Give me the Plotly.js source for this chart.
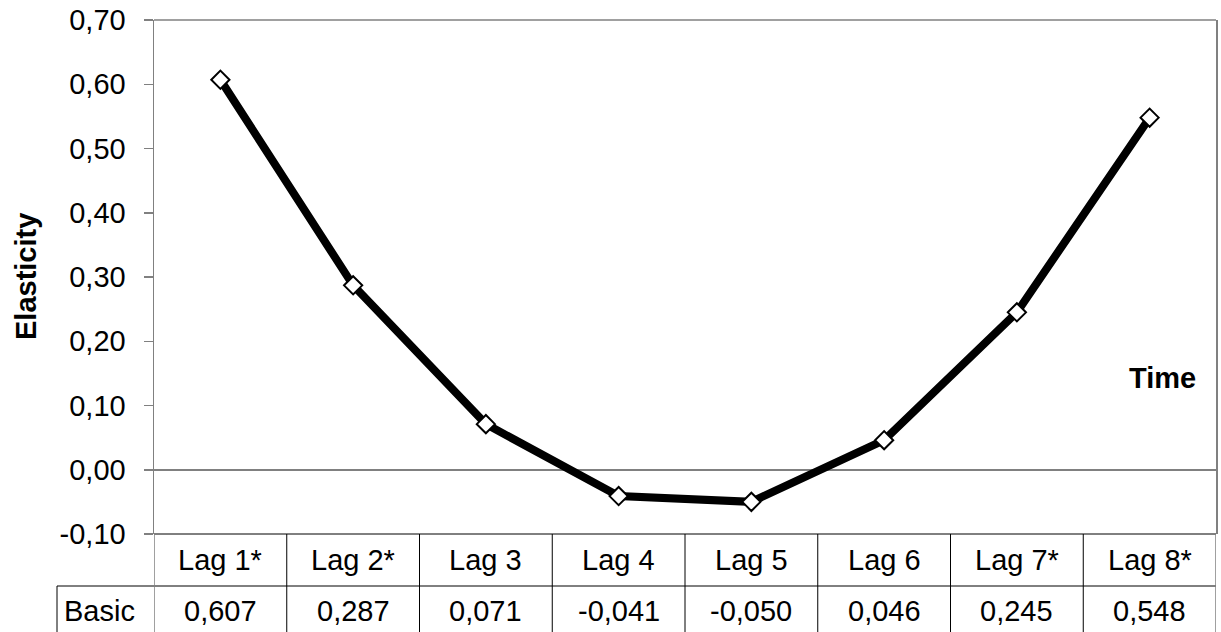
<!DOCTYPE html>
<html>
<head>
<meta charset="utf-8">
<script src="https://cdn.plot.ly/plotly-3.0.1.min.js"></script>
<style>html,body{margin:0;padding:0;background:#fff;}#chart{width:1221px;height:632px;}</style>
</head>
<body>
<div id="chart"></div>
<script>
const categories = ["Lag 1*", "Lag 2*", "Lag 3", "Lag 4", "Lag 5", "Lag 6", "Lag 7*", "Lag 8*"];
const basicValues = [0.607, 0.287, 0.071, -0.041, -0.050, 0.046, 0.245, 0.548];
const basicLabels = ["0,607", "0,287", "0,071", "-0,041", "-0,050", "0,046", "0,245", "0,548"];
const yTickVals = [-0.1, 0, 0.1, 0.2, 0.3, 0.4, 0.5, 0.6, 0.7];
const yTickText = ["-0,10", "0,00", "0,10", "0,20", "0,30", "0,40", "0,50", "0,60", "0,70"];
const seriesName = "Basic";
const yTitle = "Elasticity";
const xTitle = "Time";

const FONT = "Liberation Sans, Arial, sans-serif";
const FS = 29;
const plotH = 632 - 20 - 98;
const row1 = -(560 - 534) / plotH;
const row2 = -(611 - 534) / plotH;
const rowSep = -(586 - 534) / plotH;
const tableBottom = -(640 - 534) / plotH;

const trace = {
  x: categories,
  y: basicValues,
  type: "scatter",
  mode: "lines+markers",
  name: seriesName,
  line: {color: "#000", width: 8},
  marker: {symbol: "diamond", size: 14, color: "#fff", line: {color: "#000", width: 2}},
  hoverinfo: "skip"
};

const shapes = [];
const annotations = [];
shapes.push({type: "line", xref: "paper", yref: "paper", x0: 0, x1: 1, y0: 1, y1: 1, line: {color: "#808080", width: 1.5}});
shapes.push({type: "line", xref: "paper", yref: "paper", x0: 0, x1: 1, y0: 0, y1: 0, line: {color: "#000", width: 1}});
const basicLeft = (57 - 154) / 1062;
shapes.push({type: "line", xref: "paper", yref: "paper", x0: basicLeft, x1: 1, y0: rowSep, y1: rowSep, line: {color: "#000", width: 1}});
shapes.push({type: "line", xref: "paper", yref: "paper", x0: basicLeft, x1: basicLeft, y0: rowSep, y1: tableBottom, line: {color: "#000", width: 1}});
for (let i = 0; i <= categories.length; i++) {
  const xb = i - 0.5;
  const edge = (i === 0 || i === categories.length);
  shapes.push({type: "line", xref: "x", yref: "paper", x0: xb, x1: xb, y0: 0, y1: tableBottom,
    line: {color: edge ? "#808080" : "#000", width: edge ? 1.5 : 1}});
}
categories.forEach((c, i) => {
  annotations.push({xref: "x", yref: "paper", x: i, y: row1, text: c, showarrow: false,
    xanchor: "center", yanchor: "middle", font: {family: FONT, size: FS, color: "#000"}});
  annotations.push({xref: "x", yref: "paper", x: i, y: row2, text: basicLabels[i], showarrow: false,
    xanchor: "center", yanchor: "middle", font: {family: FONT, size: FS, color: "#000"}});
});
annotations.push({xref: "paper", yref: "paper", x: (62 - 154) / 1062, y: row2, text: seriesName, showarrow: false,
  xanchor: "left", yanchor: "middle", font: {family: FONT, size: FS, color: "#000"}});
annotations.push({xref: "paper", yref: "paper", x: (26 - 154) / 1062, y: 0.5, text: "<b>" + yTitle + "</b>", showarrow: false,
  textangle: -90, xanchor: "center", yanchor: "middle", font: {family: FONT, size: FS, color: "#000"}});
annotations.push({xref: "paper", yref: "paper", x: (1198 - 154) / 1062, y: (534 - 378) / plotH, text: "<b>" + xTitle + "</b>", showarrow: false,
  xanchor: "right", yanchor: "middle", font: {family: FONT, size: FS, color: "#000"}});

const layout = {
  width: 1221, height: 632,
  margin: {l: 154, r: 5, t: 20, b: 98, pad: 0},
  paper_bgcolor: "#fff", plot_bgcolor: "#fff",
  showlegend: false,
  separators: ",.",
  font: {family: FONT, size: FS, color: "#000"},
  xaxis: {type: "category", range: [-0.5, 7.5], showticklabels: false, showgrid: false, zeroline: false, showline: false, ticks: "", fixedrange: true},
  yaxis: {range: [-0.1, 0.7], tickmode: "array", tickvals: yTickVals, ticktext: yTickText, showgrid: false,
    zeroline: true, zerolinecolor: "#808080", zerolinewidth: 1.5,
    showline: true, linecolor: "#808080", linewidth: 1.5, mirror: true,
    ticks: "outside", ticklen: 9, tickcolor: "#808080", tickwidth: 1.5,
    ticklabelstandoff: 12, tickfont: {family: FONT, size: FS, color: "#000"}, fixedrange: true},
  shapes: shapes,
  annotations: annotations
};

Plotly.newPlot("chart", [trace], layout, {displayModeBar: false, staticPlot: true});
</script>
</body>
</html>
